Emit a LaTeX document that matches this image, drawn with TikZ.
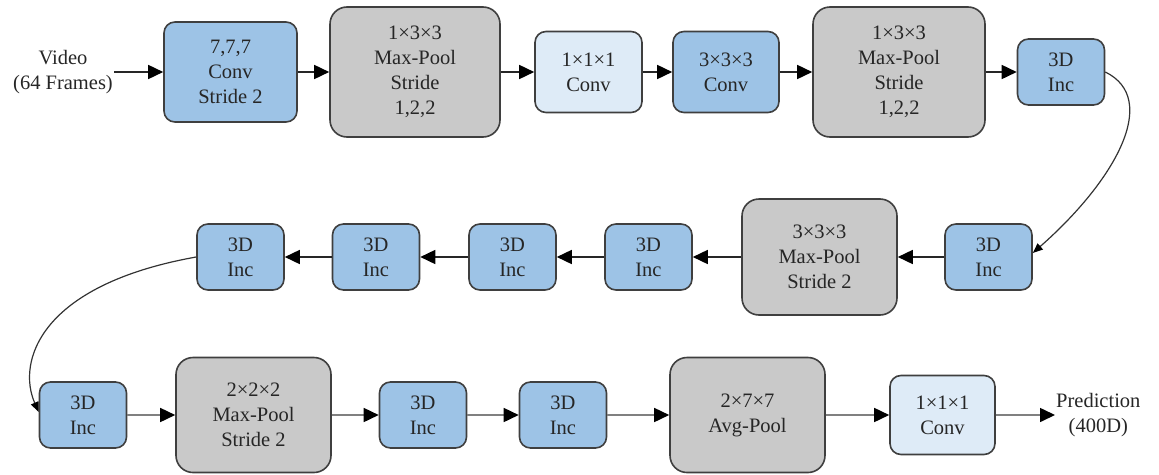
\documentclass[tikz,border=0pt]{standalone}
\usepackage{fontspec}
\setmainfont{Liberation Serif}
\newfontfamily\tempi{Liberation Serif}
\usepackage{tikz}
\usetikzlibrary{arrows.meta}
\definecolor{blu}{HTML}{9DC3E6}
\definecolor{celeste}{HTML}{DEEBF7}
\definecolor{grigio}{HTML}{C9C9C9}
\definecolor{bordo}{HTML}{3F3F3F}
\definecolor{linea}{HTML}{808080}
\definecolor{testo}{HTML}{262626}

\tikzset{
  scritta/.style={text=testo, align=center, inner sep=1pt, font=\tempi\fontsize{20.5}{25}\selectfont},
  blocco/.style={scritta, draw=bordo, line width=1.6pt, rounded corners=11pt, inner sep=0pt},
  blubox/.style={blocco, fill=blu},
  celbox/.style={blocco, fill=celeste},
  poolbox/.style={blocco, fill=grigio, rounded corners=17pt},
  incbox/.style={blubox, minimum width=87pt, minimum height=66pt},
  freccia/.style={line width=1.6pt, draw=black!85, -{Triangle[length=15pt,width=14pt,color=black]}},
  frecciag/.style={freccia, draw=linea},
  curva/.style={line width=1.2pt, draw=black!80, -{Triangle[length=10pt,width=8pt,color=black]}}
}

\begin{document}
\begin{tikzpicture}[x=1pt, y=-1pt]
  \useasboundingbox (0,0) rectangle (1159,474);
  % Riga 1
  \node[scritta] (video) at (63,72) {Video\\(64 Frames)};
  \node[blubox, minimum width=133pt, minimum height=100pt] (conv1) at (230.5,72) {7,7,7\\Conv\\Stride 2};
  \node[poolbox, minimum width=170pt, minimum height=130pt] (pool1) at (415,72) {1×3×3\\Max-Pool\\Stride\\1,2,2};
  \node[celbox, minimum width=107pt, minimum height=81pt] (conv2) at (588.5,72) {1×1×1\\Conv};
  \node[blubox, minimum width=106pt, minimum height=81pt] (conv3) at (726,72) {3×3×3\\Conv};
  \node[poolbox, minimum width=172pt, minimum height=130pt] (pool2) at (899,72) {1×3×3\\Max-Pool\\Stride\\1,2,2};
  \node[incbox] (inc1) at (1061,72) {3D\\Inc};
  \foreach \a/\b in {video/conv1, conv1/pool1, pool1/conv2, conv2/conv3, conv3/pool2, pool2/inc1}
    \draw[freccia] (\a.east) -- (\b.west);
  % Riga 2
  \node[incbox] (inc2) at (988.5,257) {3D\\Inc};
  \node[poolbox, minimum width=155pt, minimum height=116pt] (pool3) at (819.5,257) {3×3×3\\Max-Pool\\Stride 2};
  \node[incbox] (inc3) at (648.5,257) {3D\\Inc};
  \node[incbox] (inc4) at (512.5,257) {3D\\Inc};
  \node[incbox] (inc5) at (376,257) {3D\\Inc};
  \node[incbox] (inc6) at (240.5,257) {3D\\Inc};
  \foreach \a/\b in {inc2/pool3, pool3/inc3, inc3/inc4, inc4/inc5, inc5/inc6}
    \draw[freccia] (\a.west) -- (\b.east);
  % Riga 3
  \node[incbox] (inc7) at (83,415) {3D\\Inc};
  \node[poolbox, minimum width=155pt, minimum height=115pt] (pool4) at (253.5,415) {2×2×2\\Max-Pool\\Stride 2};
  \node[incbox] (inc8) at (423,415) {3D\\Inc};
  \node[incbox] (inc9) at (563,415) {3D\\Inc};
  \node[poolbox, minimum width=155pt, minimum height=115pt] (pool5) at (747.5,415) {2×7×7\\Avg-Pool};
  \node[celbox, minimum width=105pt, minimum height=79pt] (conv4) at (942.5,415) {1×1×1\\Conv};
  \node[scritta, anchor=west] (pred) at (1055,415) {Prediction\\(400D)};
  \foreach \a/\b in {inc7/pool4, pool4/inc8, inc8/inc9, inc9/pool5, pool5/conv4, conv4/pred}
    \draw[frecciag] (\a.east) -- (\b.west);
  % Raccordi tra le righe
  \draw[curva] (inc1.east) .. controls +(55,27) and +(83,-73) .. ([yshift=4pt]inc2.east);
  \draw[curva] (inc6.west) .. controls +(-157,28) and +(-22,-50) .. ([yshift=3pt]inc7.west);
\end{tikzpicture}
\end{document}
